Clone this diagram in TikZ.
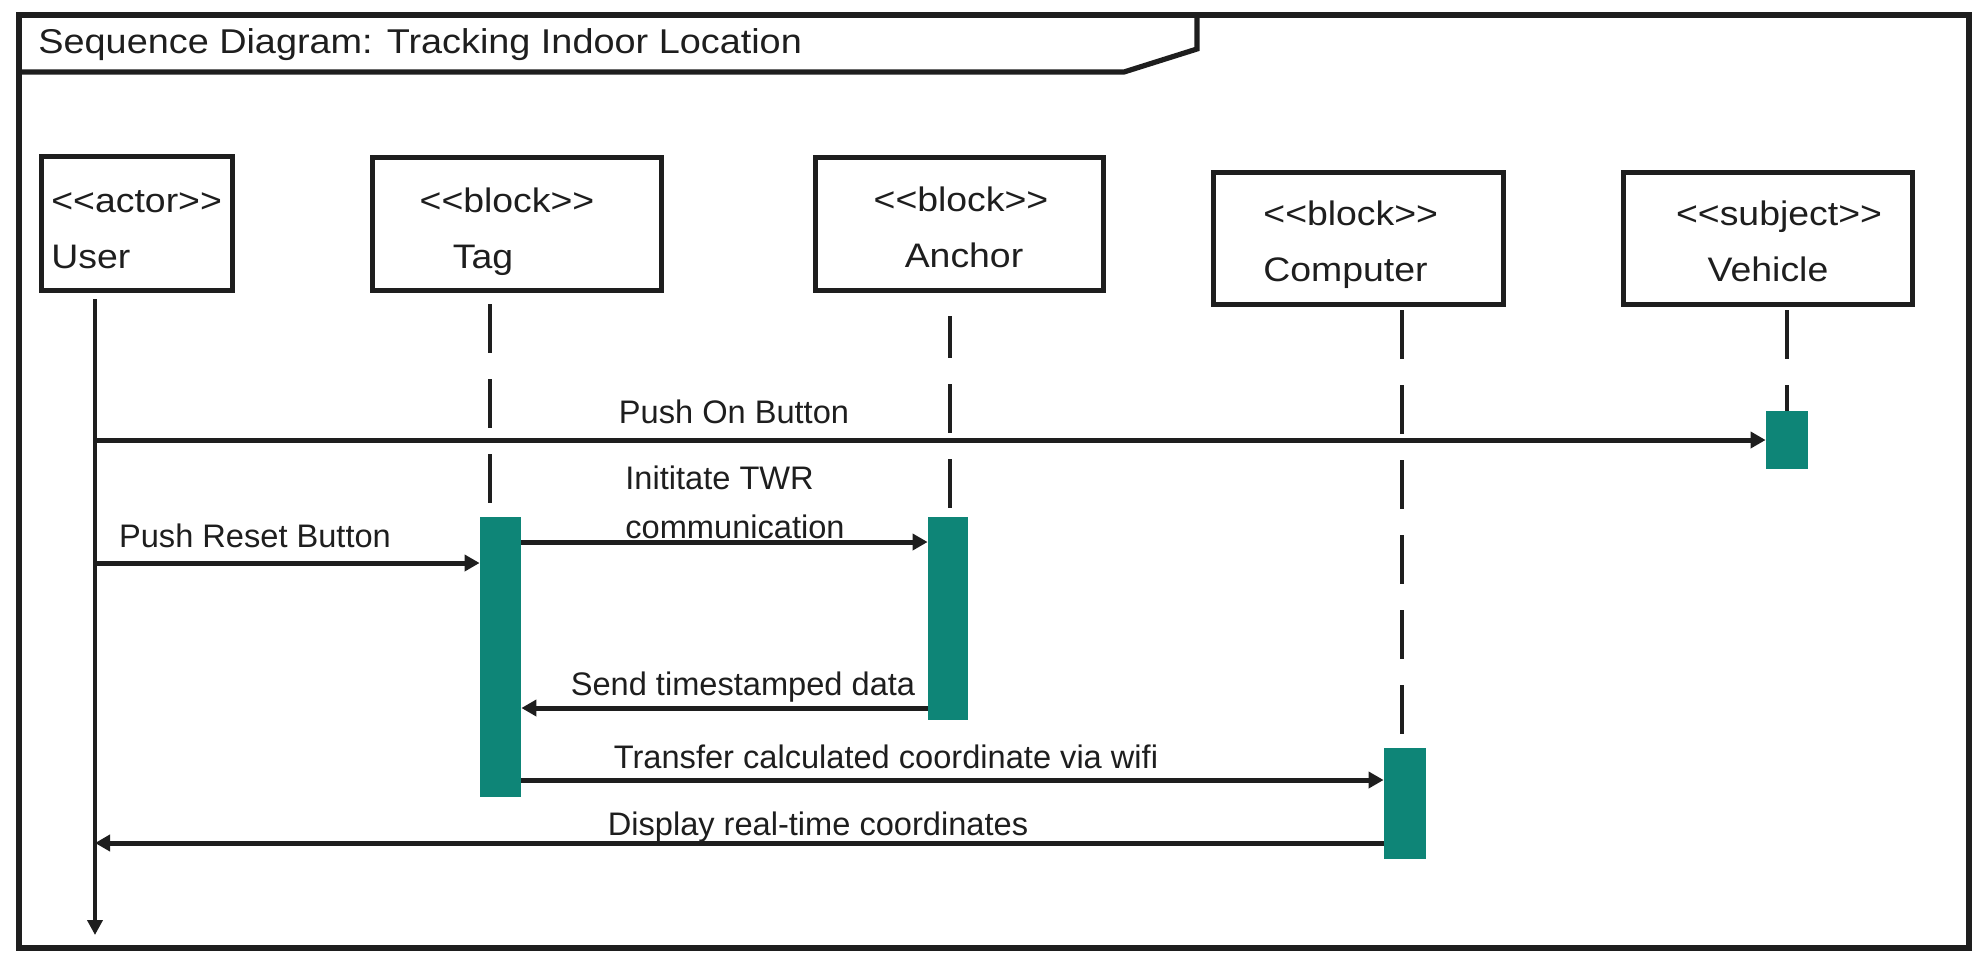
\documentclass[tikz,border=0pt]{standalone}
\usepackage{fontspec}
\setmainfont{Liberation Sans}
\newfontfamily\widefont[FakeStretch=1.1]{Liberation Sans}
\usetikzlibrary{arrows.meta,fit}
\definecolor{ink}{HTML}{1E1E1E}
\definecolor{act}{HTML}{0E8577}
\begin{document}
\begin{tikzpicture}[x=0.5pt,y=-0.5pt,
  frame/.style={draw=ink,line width=2.6pt,inner sep=0pt},
  lbox/.style={draw=ink,line width=2.5pt,inner sep=0pt},
  bar/.style={fill=act,draw=none,inner sep=0pt},
  lifeline/.style={draw=ink,line width=1.8pt,dash pattern=on 24.5pt off 13pt},
  msg/.style={draw=ink,line width=2.5pt,-{Triangle[length=7.5pt,width=8pt]}},
  lbl/.style={font={\widefont\fontsize{17pt}{20pt}\selectfont},inner sep=0pt,text=ink,anchor=base},
  mtxt/.style={font={\fontsize{16.3pt}{19pt}\selectfont},inner sep=0pt,text=ink,anchor=base}]
\useasboundingbox (0,0) rectangle (1987,959);
% outer frame and title tab
\node[frame,fit={(19,15) (1969,948)}] (frame) {};
\draw[ink,line width=2.6pt,line join=miter] (19,72) -- (1124,72) -- (1197,49) -- (1197,15);
\node[lbl,anchor=base west,font={\widefont\fontsize{17.2pt}{20pt}\selectfont}] (title) at (38,53) {Sequence Diagram: Tracking Indoor Location};
% lifeline heads
\node[lbox,fit={(41,156) (232,290)}] (user) {};
\node[lbox,fit={(372,157) (661,290)}] (tag) {};
\node[lbox,fit={(815,157) (1103,290)}] (anchor) {};
\node[lbox,fit={(1213,172) (1503,304)}] (computer) {};
\node[lbox,fit={(1623,172) (1912,304)}] (vehicle) {};
\node[lbl,anchor=base west] (userst) at (51,212) {<<actor>>};
\node[lbl,anchor=base west] (username) at (51,268) {User};
\node[lbl] (tagst) at (507,212) {<<block>>};
\node[lbl] (tagname) at (483,268) {Tag};
\node[lbl] (anchorst) at (961,211) {<<block>>};
\node[lbl] (anchorname) at (964,267) {Anchor};
\node[lbl,anchor=base west] (compst) at (1263,225) {<<block>>};
\node[lbl,anchor=base west] (compname) at (1263,281) {Computer};
\node[lbl] (vehst) at (1779,225) {<<subject>>};
\node[lbl] (vehname) at (1768,281) {Vehicle};
% activation bars
\node[bar,fit={(1766,411) (1808,469)}] (vbar) {};
\node[bar,fit={(480,517) (521,797)}] (tbar) {};
\node[bar,fit={(928,517) (968,720)}] (abar) {};
\node[bar,fit={(1384,748) (1426,859)}] (cbar) {};
% lifelines
\coordinate (u0) at (95,299);
\coordinate (uend) at (95,935);
\coordinate (t0) at (490,304);
\coordinate (a0) at (950,316);
\coordinate (c0) at (1402,310);
\coordinate (v0) at (1787,310);
\draw[ink,line width=2.4pt,-{Triangle[length=7.5pt,width=7.5pt]}] (u0) -- (uend);
\draw[lifeline] (t0) -- (t0 |- tbar.north);
\draw[lifeline,dash phase=3.5pt] (a0) -- (a0 |- abar.north);
\draw[lifeline] (c0) -- (c0 |- cbar.north);
\draw[lifeline] (v0) -- (v0 |- vbar.north);
% messages
\coordinate (m1) at (95,440);
\coordinate (m2) at (95,563);
\coordinate (m3) at (521,542);
\coordinate (m4) at (928,708);
\coordinate (m5) at (521,780);
\coordinate (m6) at (1384,843);
\draw[msg] (m1) -- (vbar.west |- m1);
\draw[msg] (m2) -- (tbar.west |- m2);
\draw[msg] (m3) -- (abar.west |- m3);
\draw[msg] (m4) -- (tbar.east |- m4);
\draw[msg] (m5) -- (cbar.west |- m5);
\draw[msg] (m6) -- (u0 |- m6);
% message labels
\node[mtxt] (l1) at (734,423) {Push On Button};
\node[mtxt] (l2) at (255,547) {Push Reset Button};
\node[mtxt,anchor=base west] (l3a) at (625,489) {Inititate TWR};
\node[mtxt,anchor=base west] (l3b) at (625,538) {communication};
\node[mtxt] (l4) at (743,695) {Send timestamped data};
\node[mtxt] (l5) at (886,768) {Transfer calculated coordinate via wifi};
\node[mtxt] (l6) at (818,835) {Display real-time coordinates};
\end{tikzpicture}
\end{document}
